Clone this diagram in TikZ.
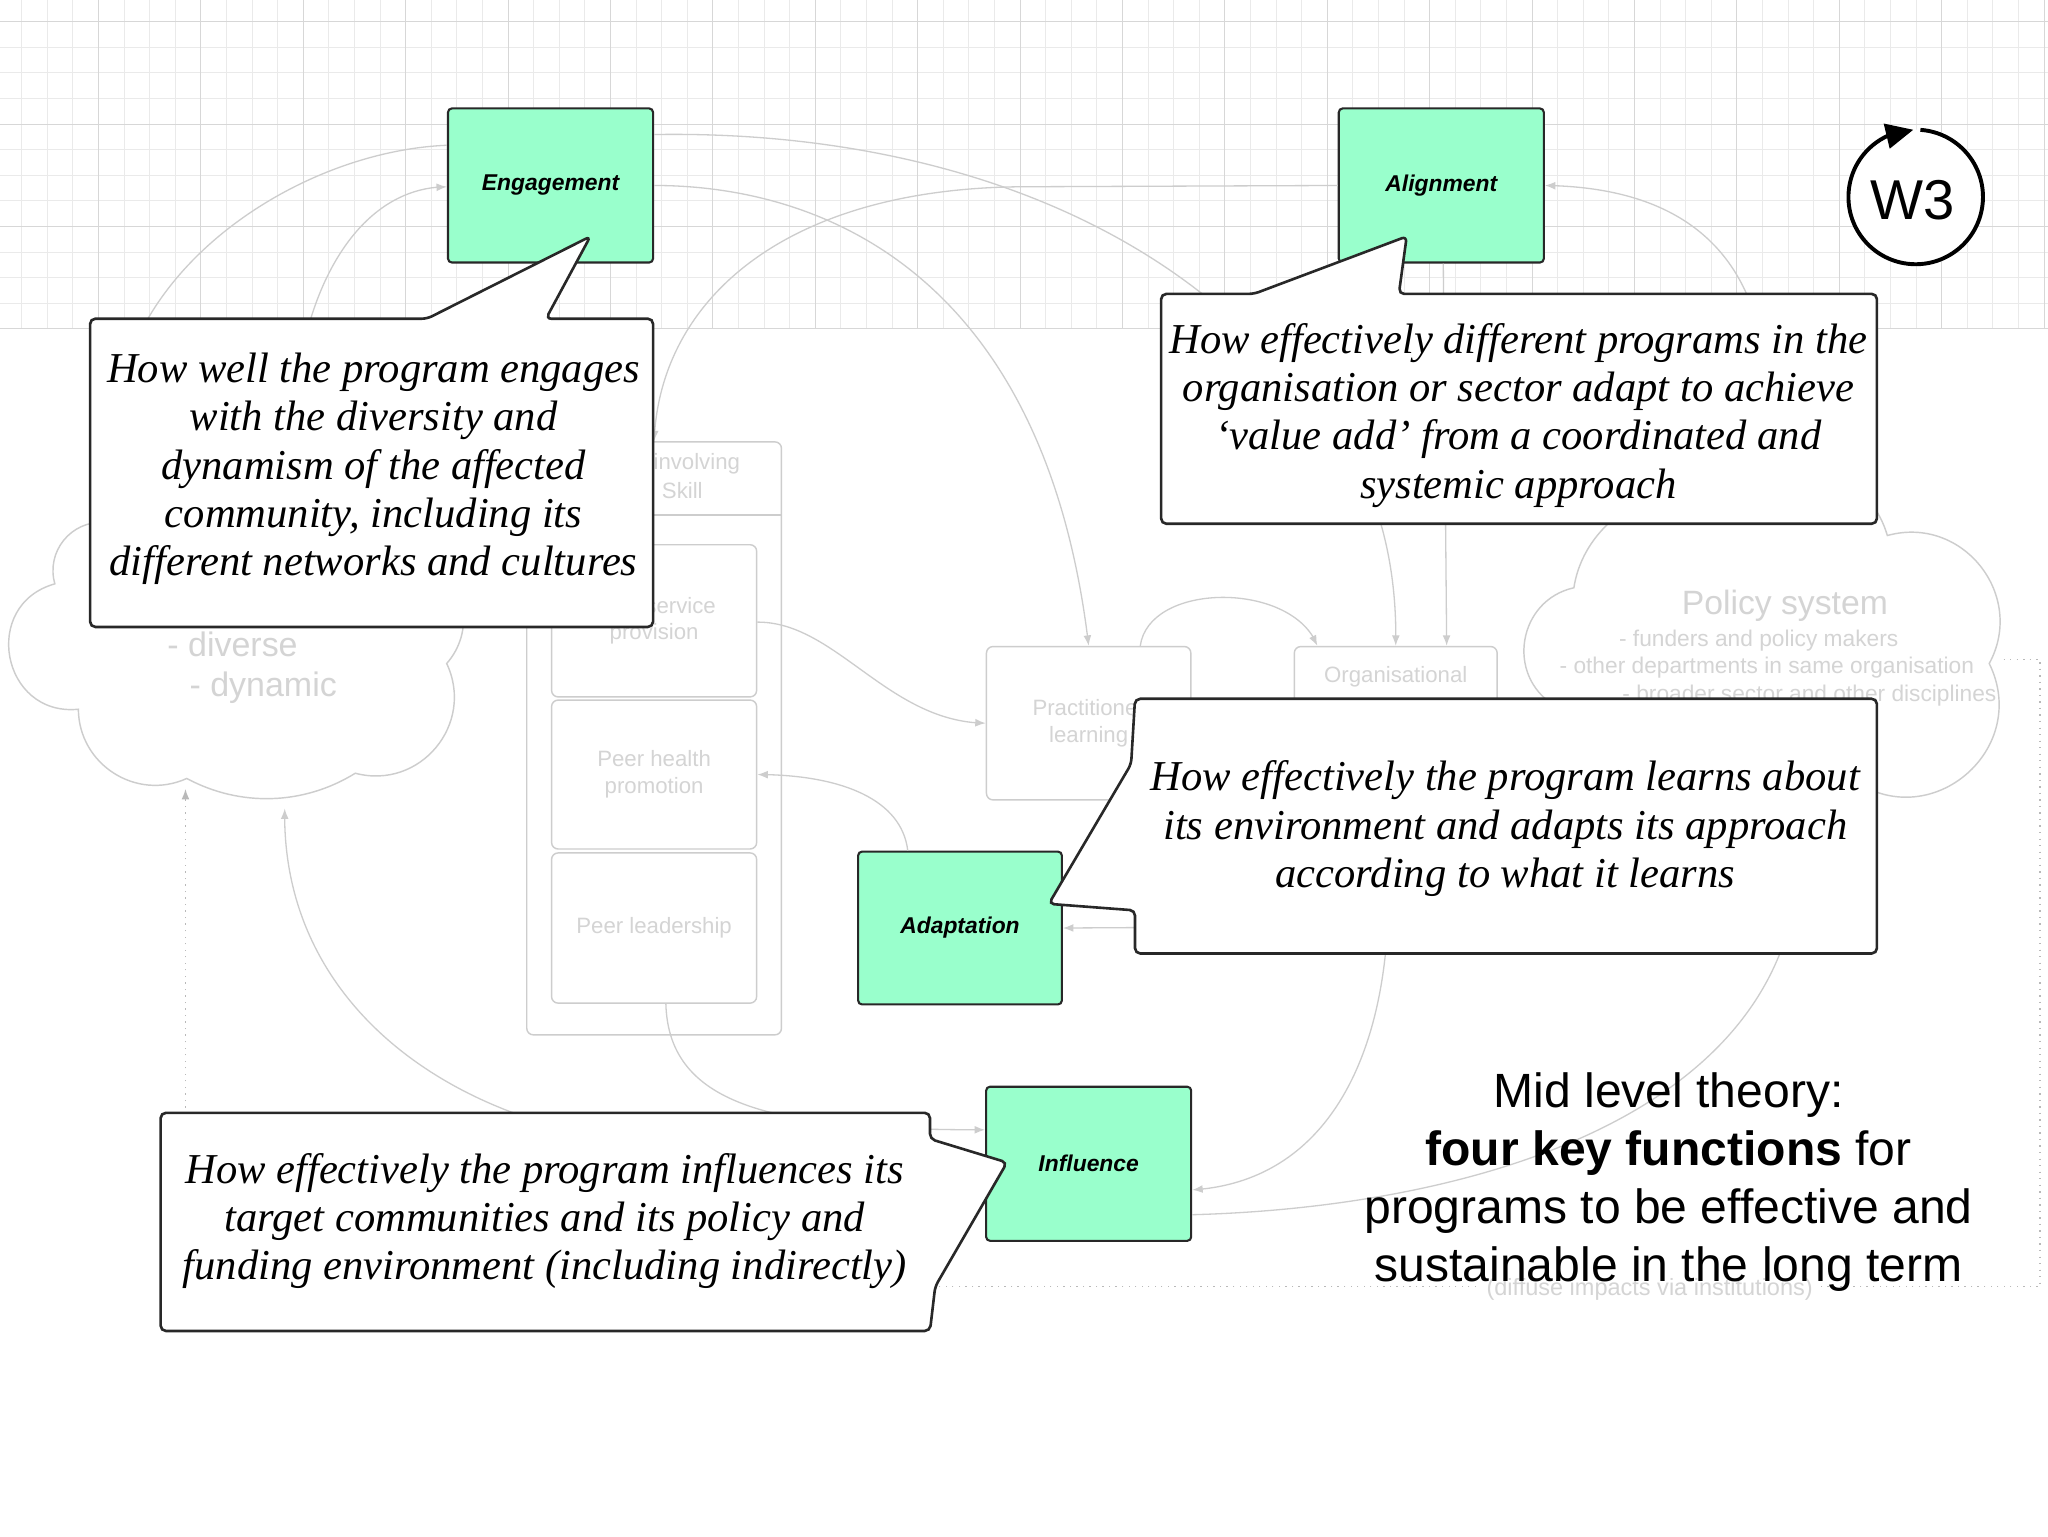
\documentclass[tikz,border=0pt]{standalone}
\usepackage{fontspec}
\newfontfamily\arial{Liberation Sans}
\newfontfamily\tnr{Liberation Serif}
\usetikzlibrary{arrows.meta,calc,bending}
\definecolor{gfill}{RGB}{153,255,204}
\definecolor{gline}{RGB}{40,40,40}
\definecolor{fade}{RGB}{205,205,205}
\definecolor{fadetext}{RGB}{212,212,212}
\definecolor{gridminor}{RGB}{234,234,234}
\definecolor{gridmajor}{RGB}{215,215,215}
\definecolor{dotc}{RGB}{185,185,185}
\begin{document}
\begin{tikzpicture}[x=1pt,y=1pt,
  gbox/.style={draw=gline, line width=1.6pt, fill=gfill, rounded corners=3pt, minimum width=157pt, minimum height=118pt, inner sep=0pt, font=\arial\bfseries\itshape\fontsize{17.5}{20}\selectfont},
  callout/.style={draw=gline, fill=white, line width=2pt, rounded corners=4pt},
  ctext/.style={align=center, inner sep=0pt, font=\tnr\itshape\fontsize{32.6}{37}\selectfont},
  fbox/.style={draw=fade, line width=1.1pt, rounded corners=5pt, inner sep=0pt},
  ftext/.style={text=fadetext, inner sep=0pt, align=center, font=\arial\fontsize{17}{20.5}\selectfont},
  fline/.style={draw=fade, line width=1pt},
  farrow/.style={fline, -{Latex[length=8pt,width=6pt]}},
  cloudline/.style={draw=fade, line width=1.1pt},
  dotline/.style={draw=dotc, line width=1.1pt, dash pattern=on 1pt off 4pt},
]
\useasboundingbox (0,0) rectangle (1568,-1176);
\fill[white] (0,0) rectangle (1568,-1176);
% grid
\foreach \i in {0,...,79}{\pgfmathsetmacro\xx{16.6+19.6*\i}\draw[gridminor, line width=0.8pt] (\xx,0) -- (\xx,-252);}
\foreach \j in {0,...,12}{\pgfmathsetmacro\yy{-16.6-19.6*\j}\draw[gridminor, line width=0.8pt] (0,\yy) -- (1568,\yy);}
\foreach \i in {0,...,19}{\pgfmathsetmacro\xx{75.4+78.4*\i}\draw[gridmajor, line width=0.9pt] (\xx,0) -- (\xx,-252);}
\foreach \j in {0,...,3}{\pgfmathsetmacro\yy{-16.6-78.4*\j}\draw[gridmajor, line width=0.9pt] (0,\yy) -- (1568,\yy);}

% left cloud
\draw[cloudline] (80,-400) to[bend left=70,looseness=1.2] (190,-370) to[bend left=70,looseness=1.2] (290,-395)
  to[bend left=60,looseness=1.1] (330,-430) to[bend left=50,looseness=1.05] (342,-508)
  to[bend left=65,looseness=1.2] (272,-592) to[bend left=30,looseness=0.92] (143,-596)
  to[bend left=57,looseness=1.1] (60,-543) to[bend left=85,looseness=1.55] (42,-447)
  to[bend left=55,looseness=1.08] (80,-400);
\node[ftext, anchor=base west, font=\arial\fontsize{26}{30}\selectfont] (cdiv) at (128,-503) {- diverse};
\node[ftext, anchor=base west, font=\arial\fontsize{26}{30}\selectfont] (cdyn) at (145,-533) {- dynamic};

% policy cloud
\draw[cloudline] (1320,-380) to[bend left=60,looseness=1.15] (1445,-410) to[bend left=67,looseness=1.22] (1523,-508)
  to[bend left=75,looseness=1.35] (1420,-598) to[bend left=60,looseness=1.15] (1290,-600)
  to[bend left=60,looseness=1.15] (1190,-540) to[bend left=68,looseness=1.23] (1205,-450)
  to[bend left=50,looseness=1.0] (1320,-380);
\node[ftext, anchor=base west, font=\arial\fontsize{25.8}{30}\selectfont] (pst) at (1287.5,-470.8) {Policy system};
\node[ftext, anchor=base west, font=\arial\fontsize{17.4}{20}\selectfont] (ps1) at (1239.4,-495) {- funders and policy makers};
\node[ftext, anchor=base west, font=\arial\fontsize{17.4}{20}\selectfont] (ps2) at (1193.9,-516) {- other departments in same organisation};
\node[ftext, anchor=base west, font=\arial\fontsize{17.4}{20}\selectfont] (ps3) at (1242,-537.2) {- broader sector and other disciplines};

% container and faded boxes
\node[fbox, minimum width=195pt, minimum height=454pt] (cont) at (500.8,-565.3) {};
\coordinate (hdr) at (0,-394.3);
\draw[fade, line width=1.1pt] (cont.west |- hdr) -- (cont.east |- hdr);
\node[ftext, anchor=base west] (hd1) at (500.2,-359.4) {involving};
\node[ftext, anchor=base west] (hd2) at (506.6,-382) {Skill};
\node[fbox, ftext, minimum width=157pt, minimum height=116.5pt] (bsp) at (500.8,-475.3) {Peer service\\provision};
\node[fbox, ftext, minimum width=157pt, minimum height=114pt] (bph) at (500.8,-593) {Peer health\\promotion};
\node[fbox, ftext, minimum width=157pt, minimum height=115pt] (bpl) at (500.8,-710.5) {Peer leadership};
\node[fbox, ftext, minimum width=156.5pt, minimum height=117.4pt] (prac) at (833.5,-553.7) {Practitioner\\learning};
\node[fbox, minimum width=155.3pt, minimum height=117.4pt] (org) at (1068.6,-553.7) {};
\node[ftext] (orgt) at (1068.6,-518) {Organisational};

% green boxes
\node[gbox] (eng) at (421.5,-142) {Engagement};
\node[gbox] (ali) at (1103.5,-142) {Alignment};
\node[gbox, minimum width=156pt, minimum height=117pt] (ada) at (735,-710.5) {Adaptation};
\node[gbox] (inf) at (833.5,-891) {Influence};

% faded connectors
\coordinate (f1s) at (104,-262);
\coordinate (f2s) at (233,-262);
\coordinate (f7s) at (1343,-240);
\coordinate (f11s) at (900,-710);
\coordinate (f12s) at (1062,-715);
\coordinate (f13s) at (1368,-715);
\coordinate (f15s) at (470,-872);
\coordinate (cl1) at (218,-619);
\coordinate (cl2) at (142,-604);
\coordinate (pcr) at (1534,-505);
\draw[fline] (f1s) .. controls (143,-175) and (250,-115) .. ($(eng.north west)+(0,-29)$);
\draw[farrow] (f2s) .. controls (250,-190) and (290,-143) .. ($(eng.west)+(0,-1)$);
\draw[farrow] ($(eng.east)+(0,39)$) .. controls (680,-100) and (850,-150) .. (960,-260) .. controls (1050,-330) and (1070,-420) .. (org.north);
\draw[farrow] ($(ali.south)+(1.5,0)$) -- ($(org.north)+(39,0)$);
\draw[farrow] (eng.east) .. controls (630,-142) and (800,-210) .. (prac.north);
\draw[farrow] (ali.west) -- (780,-143) .. controls (600,-145) and (505,-230) .. (cont.north);
\draw[farrow] (f7s) .. controls (1320,-170) and (1260,-143) .. (ali.east);
\draw[farrow] ($(bsp.east)+(0,-1)$) .. controls (640,-476) and (680,-553) .. (prac.west);
\draw[farrow] ($(ada.north)+(-40,0)$) .. controls (690,-610) and (640,-593) .. (bph.east);
\draw[farrow] ($(prac.north)+(39.5,0)$) .. controls (880,-445) and (990,-445) .. ($(org.north)+(-60,0)$);
\draw[farrow] (f11s) -- (ada.east);
\draw[farrow] (f12s) .. controls (1055,-820) and (1010,-905) .. ($(inf.east)+(0,-20)$);
\draw[fline] (f13s) .. controls (1320,-870) and (1100,-925) .. ($(inf.east)+(0,-39)$);
\draw[farrow] ($(bpl.south)+(9,0)$) .. controls (512,-850) and (600,-865) .. ($(inf.west)+(0,26)$);
\draw[farrow] (f15s) .. controls (330,-850) and (215,-760) .. (cl1);
\draw[dotline, -{Latex[length=8pt,width=6pt]}] (pcr) -- (1562,-505) -- (1562,-985) -- (142,-985) -- (cl2);
\node[fill=white, text=fadetext, font=\arial\fontsize{18}{20}\selectfont, inner xsep=4pt, inner ysep=1pt] (diff) at (1263,-987) {(diffuse impacts via institutions)};

% callouts
\path[callout] (69,-244) -- (327,-244) -- (452,-181) -- (418,-244) -- (500,-244) -- (500,-480) -- (69,-480) -- cycle;
\path[callout] (889,-225) -- (960,-225) -- (1077,-181) -- (1071,-225) -- (1437,-225) -- (1437,-401) -- (889,-401) -- cycle;
\path[callout] (869,-535) -- (1437,-535) -- (1437,-730) -- (869,-730) -- (869,-697) -- (803,-692) -- (866,-585) -- cycle;
\path[callout] (123,-852) -- (712,-852) -- (712,-872) -- (771,-890) -- (716,-985) -- (712,-1019) -- (123,-1019) -- cycle;

\node[ctext] (t1) at (286,-359) {How well the program engages\\with the diversity and\\dynamism of the affected\\community, including its\\different networks and cultures};
\node[ctext] (t2) at (1162.5,-318) {How effectively different programs in the\\organisation or sector adapt to achieve\\‘value add’ from a coordinated and\\systemic approach};
\node[ctext] (t3) at (1152.5,-634.5) {How effectively the program learns about\\its environment and adapts its approach\\according to what it learns};
\node[ctext] (t4) at (417,-935) {How effectively the program influences its\\target communities and its policy and\\funding environment (including indirectly)};

% W3
\coordinate (w3c) at (1466.7,-150.8);
\fill[white] (w3c) circle[radius=51.5];
\draw[line width=3pt, -{Triangle[length=21pt,width=19pt]}] ($(w3c)+(86:51.5)$) arc[start angle=86, end angle=-268, radius=51.5];
\node[inner sep=0pt, font=\arial\fontsize{43}{45}\selectfont] (w3) at (1464.3,-153.2) {W3};

% mid level theory
\node[align=center, inner sep=0pt, font=\arial\fontsize{36.8}{44.5}\selectfont] (mid) at (1277.5,-905) {Mid level theory:\\\textbf{four key functions} for\\programs to be effective and\\sustainable in the long term};
\end{tikzpicture}
\end{document}
